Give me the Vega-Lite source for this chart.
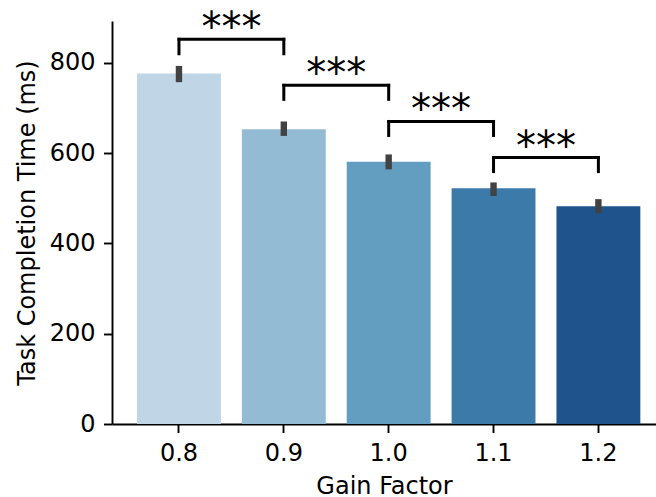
{
  "$schema": "https://vega.github.io/schema/vega-lite/v6.json",
  "width": 544,
  "height": 403,
  "autosize": {"type": "none"},
  "padding": {"left": 112, "top": 21, "right": 0, "bottom": 73},
  "background": "white",
  "config": {
    "font": "DejaVu Sans",
    "view": {"stroke": null},
    "axis": {
      "labelFont": "DejaVu Sans",
      "titleFont": "DejaVu Sans",
      "labelFontSize": 24,
      "titleFontSize": 24,
      "titleFontWeight": "normal",
      "labelColor": "black",
      "titleColor": "black",
      "domainColor": "black",
      "tickColor": "black",
      "domainWidth": 1.9,
      "tickWidth": 1.9,
      "tickSize": 8.5,
      "grid": false
    }
  },
  "datasets": {
    "bars": [
      {"gain": "0.8", "mean": 776, "lo": 757, "hi": 793},
      {"gain": "0.9", "mean": 653, "lo": 638, "hi": 670},
      {"gain": "1.0", "mean": 581, "lo": 564, "hi": 597},
      {"gain": "1.1", "mean": 522, "lo": 505, "hi": 535},
      {"gain": "1.2", "mean": 482, "lo": 467, "hi": 498}
    ],
    "brackets": [
      {"a": "0.8", "b": "0.9", "low": 820, "high": 852, "label": "***"},
      {"a": "0.9", "b": "1.0", "low": 719, "high": 750, "label": "***"},
      {"a": "1.0", "b": "1.1", "low": 639, "high": 670, "label": "***"},
      {"a": "1.1", "b": "1.2", "low": 559, "high": 590, "label": "***"}
    ]
  },
  "layer": [
    {
      "data": {"name": "bars"},
      "mark": {"type": "bar"},
      "encoding": {
        "x": {
          "field": "gain", "type": "nominal", "title": "Gain Factor",
          "scale": {"domain": ["0.8", "0.9", "1.0", "1.1", "1.2"], "paddingInner": 0.2, "paddingOuter": 0.194, "align": 0.615},
          "axis": {"labelAngle": 0, "labelPadding": 9, "titlePadding": 9}
        },
        "y": {
          "field": "mean", "type": "quantitative", "title": "Task Completion Time (ms)",
          "scale": {"domain": [0, 892.5], "nice": false},
          "axis": {"values": [0, 200, 400, 600, 800], "labelPadding": 8.5, "titlePadding": 10}
        },
        "color": {
          "field": "gain", "type": "nominal", "legend": null,
          "scale": {"domain": ["0.8", "0.9", "1.0", "1.1", "1.2"], "range": ["#c0d6e7", "#93bbd3", "#639dc0", "#3c7aaa", "#1e548b"]}
        }
      }
    },
    {
      "data": {"name": "bars"},
      "mark": {"type": "rule", "color": "#424242", "strokeWidth": 6.4},
      "encoding": {
        "x": {"field": "gain", "type": "nominal", "title": "Gain Factor", "bandPosition": 0.5},
        "y": {"field": "lo", "type": "quantitative", "title": "Task Completion Time (ms)"},
        "y2": {"field": "hi"}
      }
    },
    {
      "data": {"name": "brackets"},
      "mark": {"type": "rule", "color": "black", "strokeWidth": 3, "strokeCap": "square"},
      "encoding": {
        "x": {"field": "a", "type": "nominal", "title": "Gain Factor", "bandPosition": 0.5},
        "x2": {"field": "b", "bandPosition": 0.5},
        "y": {"field": "high", "type": "quantitative", "title": "Task Completion Time (ms)"}
      }
    },
    {
      "data": {"name": "brackets"},
      "mark": {"type": "rule", "color": "black", "strokeWidth": 3, "strokeCap": "square"},
      "encoding": {
        "x": {"field": "a", "type": "nominal", "title": "Gain Factor", "bandPosition": 0.5},
        "y": {"field": "low", "type": "quantitative", "title": "Task Completion Time (ms)"},
        "y2": {"field": "high"}
      }
    },
    {
      "data": {"name": "brackets"},
      "mark": {"type": "rule", "color": "black", "strokeWidth": 3, "strokeCap": "square"},
      "encoding": {
        "x": {"field": "b", "type": "nominal", "title": "Gain Factor", "bandPosition": 0.5},
        "y": {"field": "low", "type": "quantitative", "title": "Task Completion Time (ms)"},
        "y2": {"field": "high"}
      }
    },
    {
      "data": {"name": "brackets"},
      "mark": {"type": "text", "font": "DejaVu Sans", "fontSize": 40, "color": "black", "align": "center", "baseline": "alphabetic", "dy": 2},
      "encoding": {
        "x": {"field": "a", "type": "nominal", "title": "Gain Factor", "bandPosition": 1.125},
        "y": {"field": "high", "type": "quantitative", "title": "Task Completion Time (ms)"},
        "text": {"field": "label"}
      }
    }
  ]
}
